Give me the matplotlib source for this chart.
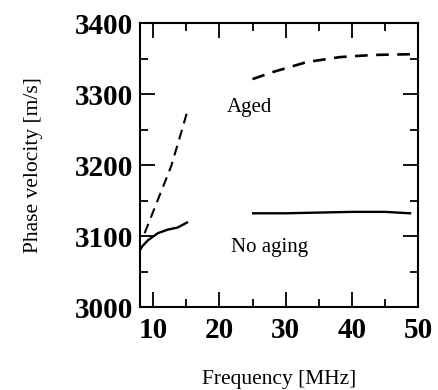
import matplotlib
matplotlib.use("Agg")
import matplotlib.pyplot as plt
from matplotlib.ticker import MultipleLocator

# Data
aged_low_f = [8.7, 10.7, 12.7, 14.2, 15.1]
aged_low_v = [3104, 3151, 3198, 3245, 3274]
aged_high_f = [25.0, 28.1, 33.2, 38.2, 43.2, 48.8]
aged_high_v = [3321, 3331, 3345, 3352, 3355, 3356]

noage_low_f = [8.0, 8.3, 9.2, 10.7, 12.2, 13.7, 15.1]
noage_low_v = [3080, 3085, 3094, 3104, 3109, 3112, 3119]
noage_high_f = [25.1, 30.0, 35.0, 40.0, 45.0, 48.8]
noage_high_v = [3132, 3132, 3133, 3134, 3134, 3132]

x_ticks = [10, 20, 30, 40, 50]
y_ticks = [3000, 3100, 3200, 3300, 3400]

serif = ["Liberation Serif", "DejaVu Serif"]

fig = plt.figure(figsize=(4.38, 3.90), dpi=100)
ax = fig.add_axes([0.3196, 0.2128, 0.6347, 0.7282])

dash = (0, (4.8, 3.2))
ax.plot(aged_low_f, aged_low_v, color="black", lw=1.5, ls=dash)
ax.plot(aged_high_f, aged_high_v, color="black", lw=1.9, ls=dash)
ax.plot(noage_low_f, noage_low_v, color="black", lw=1.7)
ax.plot(noage_high_f, noage_high_v, color="black", lw=1.7)

ax.text(24.6, 3275, "Aged", family=serif, fontsize=15, ha="center", va="baseline")
ax.text(27.6, 3077, "No aging", family=serif, fontsize=15, ha="center", va="baseline")

ax.set_xlim(8, 50)
ax.set_ylim(3000, 3400)
ax.set_xticks(x_ticks)
ax.set_yticks(y_ticks)
ax.xaxis.set_minor_locator(MultipleLocator(5))
ax.yaxis.set_minor_locator(MultipleLocator(50))
ax.tick_params(which="both", direction="in", top=True, right=True, width=1.3)
ax.tick_params(which="major", length=11)
ax.tick_params(which="minor", length=6)
ax.tick_params(axis="x", which="major", pad=7)
ax.tick_params(axis="y", which="major", pad=5)
for lab in ax.get_xticklabels() + ax.get_yticklabels():
    lab.set_family(serif)
    lab.set_fontweight("bold")
    lab.set_fontsize(21)
for sp in ax.spines.values():
    sp.set_linewidth(1.5)

ax.set_xlabel("Frequency [MHz]", family=serif, fontsize=15.5, labelpad=19)
ax.set_ylabel("Phase velocity [m/s]", family=serif, fontsize=15.5, labelpad=23)

fig.savefig("out.png", dpi=100)
